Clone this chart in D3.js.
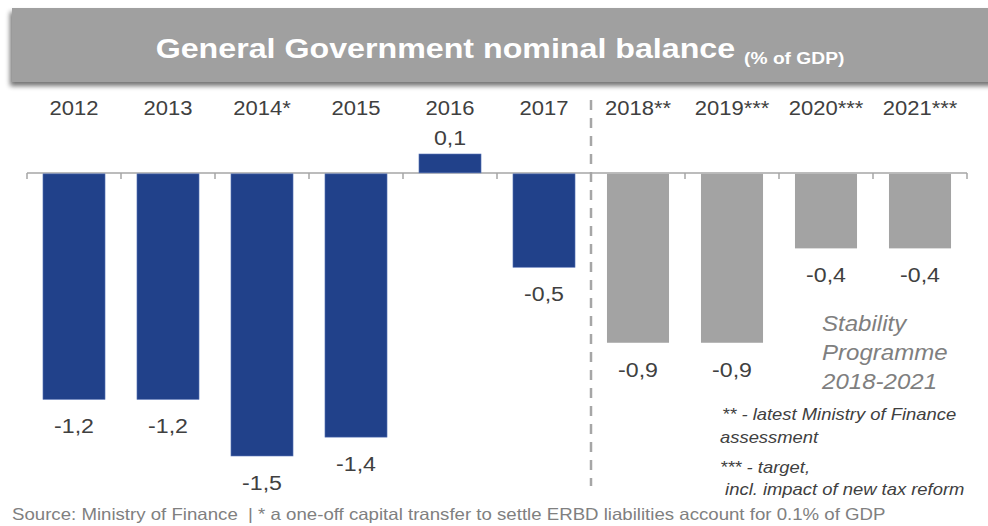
<!DOCTYPE html>
<html><head><meta charset="utf-8">
<script src="https://cdn.jsdelivr.net/npm/d3@7"></script>
<style>
html,body{margin:0;padding:0;background:#fff;}
svg{display:block;font-family:"Liberation Sans",Arial,sans-serif;}
</style></head>
<body>
<svg id="chart" width="988" height="526"></svg>
<script>
const categories = ["2012","2013","2014*","2015","2016","2017","2018**","2019***","2020***","2021***"];
const values = [-1.2,-1.2,-1.5,-1.4,0.1,-0.5,-0.9,-0.9,-0.4,-0.4];
const valueLabels = ["-1,2","-1,2","-1,5","-1,4","0,1","-0,5","-0,9","-0,9","-0,4","-0,4"];
const projected = [false,false,false,false,false,false,true,true,true,true];
const titleMain = "General Government nominal balance ";
const titleSub = "(% of GDP)";
const programmeLines = ["Stability","Programme","2018-2021"];
const noteLines = ["** - latest Ministry of Finance","assessment","*** - target,"," incl. impact of new tax reform"];
const sourceText = "Source: Ministry of Finance  | * a one-off capital transfer to settle ERBD liabilities account for 0.1% of GDP";

const K = 1.13; // horizontal text stretch
const pos = (x,y)=>`translate(${x},${y}) scale(${K},1)`;

const svg = d3.select("#chart");
const defs = svg.append("defs");
const f = defs.append("filter").attr("id","sh").attr("x","-5%").attr("y","-20%").attr("width","110%").attr("height","160%");
f.append("feGaussianBlur").attr("in","SourceAlpha").attr("stdDeviation",2.5);
f.append("feOffset").attr("dx",-2).attr("dy",4).attr("result","ob");
f.append("feComponentTransfer").append("feFuncA").attr("type","linear").attr("slope",0.55);
const m = f.append("feMerge"); m.append("feMergeNode"); m.append("feMergeNode").attr("in","SourceGraphic");

// title banner
svg.append("rect").attr("x",12).attr("y",8).attr("width",990).attr("height",74).attr("fill","#a0a0a0").attr("filter","url(#sh)");
const t = svg.append("text").attr("transform",pos(500,58)).attr("text-anchor","middle").attr("fill","#fff").attr("font-weight","bold");
t.append("tspan").attr("font-size",28.5).text(titleMain);
t.append("tspan").attr("font-size",17).attr("dy",6).text(titleSub);

const x = d3.scaleBand().domain(categories).range([27,967]).paddingInner(0.34).paddingOuter(0.17);
const y = d3.scaleLinear().domain([-1.5,0.1]).range([456,154]);

// axis
const y0 = y(0);
svg.append("line").attr("x1",27).attr("x2",967).attr("y1",y0).attr("y2",y0).attr("stroke","#a6a6a6").attr("stroke-width",1.5);
d3.range(categories.length+1).forEach(i=>{
  const xx = 27 + i*(940/categories.length);
  svg.append("line").attr("x1",xx).attr("x2",xx).attr("y1",y0).attr("y2",y0+6).attr("stroke","#a6a6a6").attr("stroke-width",1.5);
});

// bars
svg.selectAll("rect.bar").data(values).join("rect").attr("class","bar")
  .attr("x",(d,i)=>x(categories[i])).attr("width",x.bandwidth())
  .attr("y",d=>d>=0?y(d):y0+1).attr("height",d=>Math.abs(y(d)-y0)-(d<0?1:0))
  .attr("fill",(d,i)=>projected[i]?"#a3a3a3":"#21418a")
  .attr("stroke",(d,i)=>projected[i]?"none":"#5a76b8").attr("stroke-width",0.6);

// year labels
svg.selectAll("text.cat").data(categories).join("text").attr("class","cat")
  .attr("transform",d=>pos(x(d)+x.bandwidth()/2,115)).attr("text-anchor","middle")
  .attr("font-size",19.5).attr("fill","#404040").text(d=>d);

// value labels
svg.selectAll("text.val").data(values).join("text").attr("class","val")
  .attr("transform",(d,i)=>pos(x(categories[i])+x.bandwidth()/2, d>=0?y(d)-9:y(d)+34))
  .attr("text-anchor","middle")
  .attr("font-size",20.5).attr("fill","#404040").text((d,i)=>valueLabels[i]);

// dashed separator
const sepX = 27 + 6*(940/categories.length);
svg.append("line").attr("x1",sepX).attr("x2",sepX).attr("y1",100).attr("y2",486)
  .attr("stroke","#a6a6a6").attr("stroke-width",2.5).attr("stroke-dasharray","10,8");

// programme label
svg.selectAll("text.prog").data(programmeLines).join("text").attr("class","prog")
  .attr("transform",(d,i)=>pos(822,331+i*29)).attr("font-size",21.3).attr("font-style","italic")
  .attr("fill","#7f7f7f").text(d=>d);

// notes
const noteY = [420,443,473,495];
const noteX = [722,720,720,720];
svg.selectAll("text.note").data(noteLines).join("text").attr("class","note")
  .attr("transform",(d,i)=>pos(noteX[i],noteY[i])).attr("font-size",16.3).attr("font-style","italic")
  .attr("fill","#404040").style("white-space","pre").text(d=>d);

// source
svg.append("text").attr("transform",pos(12,520)).attr("font-size",16.5).attr("fill","#808080")
  .style("white-space","pre").text(sourceText);
</script>
</body></html>
